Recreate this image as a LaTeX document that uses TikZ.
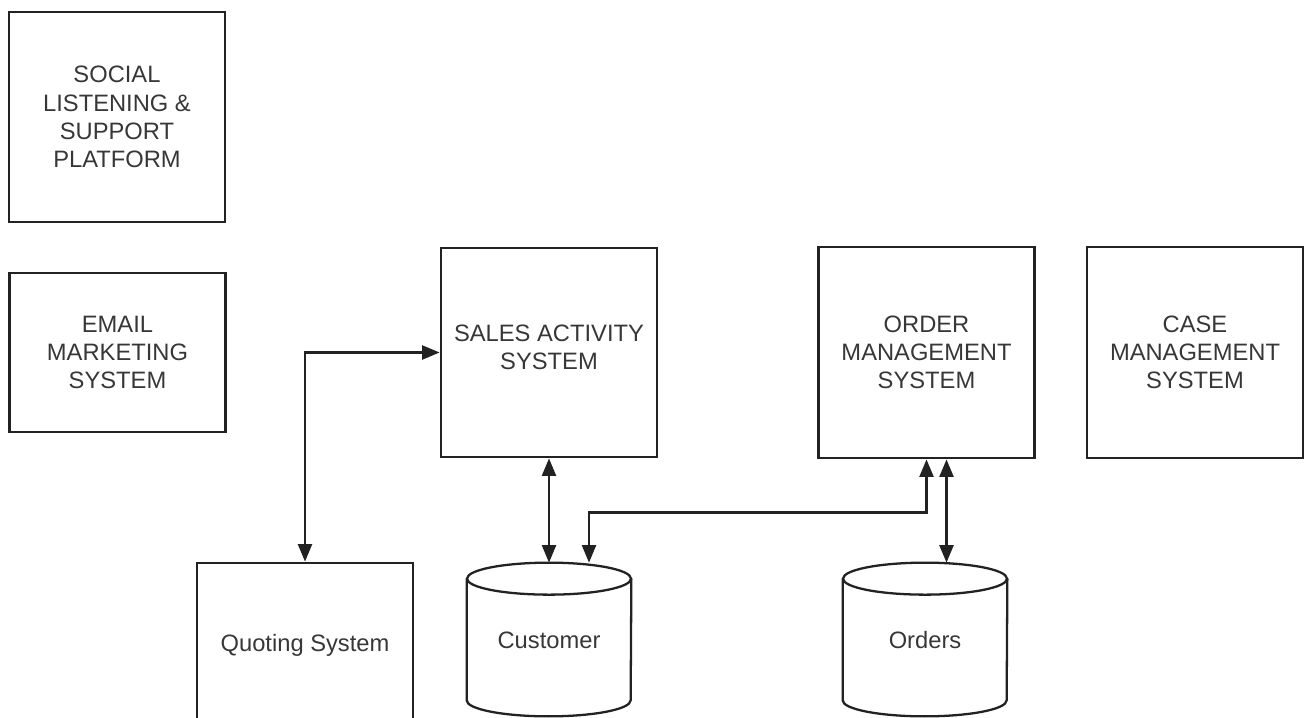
\documentclass[tikz,border=0pt]{standalone}
\usepackage{fontspec}
\setmainfont{Liberation Sans}
\usetikzlibrary{arrows.meta}

\definecolor{lineblack}{RGB}{34, 34, 34}
\definecolor{textgray}{RGB}{55, 55, 55}

\tikzset{
  sysbox/.style={draw=lineblack, line width=1.6pt, minimum width=4.32cm,
    align=center, text=textgray, font=\fontsize{13.5}{16}\selectfont},
  dbbody/.style={minimum width=3.28cm, minimum height=3.08cm,
    text=textgray, font=\fontsize{13.5}{16}\selectfont},
  dbline/.style={draw=lineblack, line width=1.3pt},
  link/.style={draw=lineblack, line width=1.3pt,
    {Triangle[length=10pt,width=8pt]}-{Triangle[length=10pt,width=8pt]}}
}

\begin{document}
\begin{tikzpicture}
        \useasboundingbox (0,0) rectangle (26.1,14.34);

        % Left column
        \node[sysbox, minimum height=4.2cm] (social) at (2.34,12.0)
          {SOCIAL\\LISTENING \&\\SUPPORT\\PLATFORM};
        \node[sysbox, minimum height=3.18cm] (email) at (2.35,7.29)
          {EMAIL\\MARKETING\\SYSTEM};

        % Systems row
        \node[sysbox, minimum height=4.18cm] (sales) at (10.98,7.29)
          {SALES ACTIVITY\\SYSTEM\\[-10pt]};
        \node[sysbox, minimum height=4.22cm] (order) at (18.53,7.29)
          {ORDER\\MANAGEMENT\\SYSTEM};
        \node[sysbox, minimum height=4.22cm] (case) at (23.9,7.29)
          {CASE\\MANAGEMENT\\SYSTEM};

        % Quoting
        \node[sysbox, minimum height=3.28cm] (quote) at (6.1,1.44)
          {\raisebox{-1pt}{Quoting System}};

        % Databases
        \node[dbbody] (cust) at (10.98,1.54) {Customer};
        \draw[dbline] ([yshift=-0.32cm]cust.north) ellipse [x radius=1.64cm, y radius=0.32cm];
        \draw[dbline] ([yshift=-0.32cm]cust.north west) -- ([yshift=0.34cm]cust.south west)
          arc[start angle=180, end angle=360, x radius=1.64cm, y radius=0.32cm]
          -- ([yshift=-0.32cm]cust.north east);

        \node[dbbody] (orders) at (18.5,1.54) {Orders};
        \draw[dbline] ([yshift=-0.32cm]orders.north) ellipse [x radius=1.64cm, y radius=0.32cm];
        \draw[dbline] ([yshift=-0.32cm]orders.north west) -- ([yshift=0.34cm]orders.south west)
          arc[start angle=180, end angle=360, x radius=1.64cm, y radius=0.32cm]
          -- ([yshift=-0.32cm]orders.north east);

        % Links
        \draw[link] (quote.north) |- (sales.west);
        \draw[link] (sales.south) -- (cust.north);
        \draw[link] (order.south) -- ++(0,-1.06) -| ([xshift=0.8cm]cust.north);
        \draw[link] ([xshift=0.4cm]order.south) -- ([xshift=0.4cm]order.south |- orders.north);
    \end{tikzpicture}
\end{document}
